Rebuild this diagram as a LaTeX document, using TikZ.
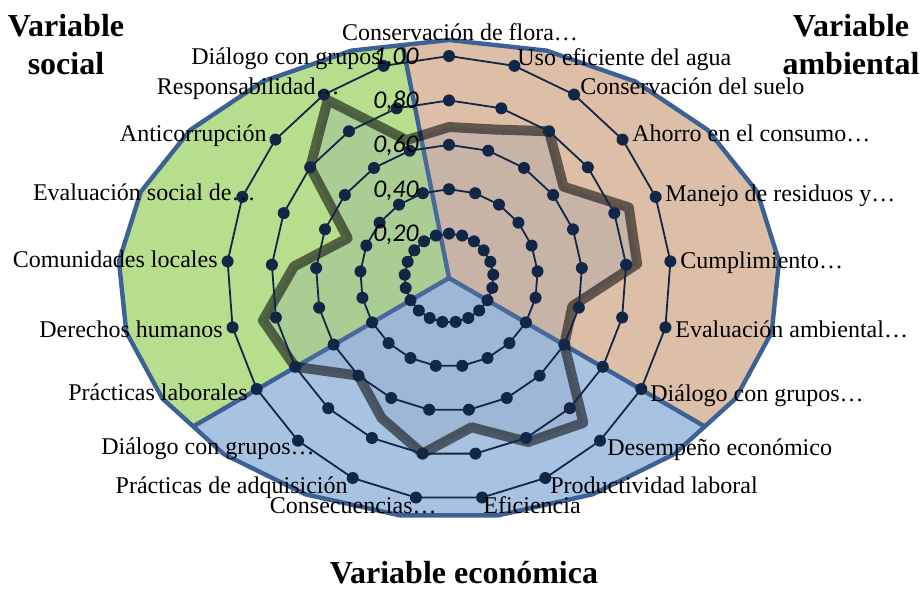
\documentclass[tikz,border=0pt]{standalone}
\usepackage{fontspec}
\setmainfont{Liberation Serif}
\newfontfamily\tickfont{Carlito}
\usetikzlibrary{calc}

\definecolor{socialgreen}{RGB}{183,222,141}
\definecolor{envtan}{RGB}{220,191,166}
\definecolor{ecoblue}{RGB}{168,194,226}
\definecolor{edgeblue}{RGB}{60,97,148}
\definecolor{gridnavy}{RGB}{18,38,72}
\definecolor{datafill}{RGB}{120,140,175}

\begin{document}
\begin{tikzpicture}[x=0.5pt, y=-0.5pt,
    ring/.style={draw=gridnavy, line width=0.9pt, line join=round},
    edge/.style={draw=edgeblue, line width=2.2pt, line join=round},
    series/.style={draw=black, draw opacity=0.55, line width=5pt, line join=round,
      fill=datafill, fill opacity=0.2},
    catlabel/.style={font=\fontsize{12}{14}\selectfont, inner sep=0pt},
    ticklabel/.style={font=\tickfont\itshape\fontsize{12.8}{14}\selectfont,
      inner sep=0pt, anchor=base east},
    vartitle/.style={font=\bfseries\fontsize{16}{19}\selectfont, align=center, inner sep=0pt},
  ]
  \useasboundingbox (0,0) rectangle (922,590);

  % centre and sector borders
  \coordinate (C) at (449,278);
  \coordinate (b-top) at (402,42);
  \coordinate (b-right) at (704,426);
  \coordinate (b-left) at (194,426);

  % outer 21-gon
  \foreach \k in {0,...,20}
    \coordinate (o\k) at ({449+331*sin(\k*360/21)},{279-239*cos(\k*360/21)});

  \begin{scope}
    \clip (o0) \foreach \k in {1,...,20} {-- (o\k)} -- cycle;
    \fill[envtan] (C) -- ($(C)!3!(b-top)$) -- (1000,-300) -- ($(C)!3!(b-right)$) -- cycle;
    \fill[socialgreen] (C) -- ($(C)!3!(b-top)$) -- (-300,-300) -- ($(C)!3!(b-left)$) -- cycle;
    \fill[ecoblue] (C) -- ($(C)!3!(b-left)$) -- ($(C)!3!(b-right)$) -- cycle;
    \draw[edge] ($(C)!1.3!(b-top)$) -- (C) -- ($(C)!1.3!(b-right)$);
    \draw[edge] (C) -- ($(C)!1.3!(b-left)$);
  \end{scope}
  \draw[edge] (o0) \foreach \k in {1,...,20} {-- (o\k)} -- cycle;

  % data series
  \foreach \v [count=\k from 0] in {0.68,0.70,0.80,0.66,0.87,0.85,0.57,0.60,0.89,0.82,0.68,
                                    0.80,0.70,0.60,0.80,0.86,0.70,0.49,0.80,0.97,0.65}
    \coordinate (d\k) at ({449+222*\v*sin(\k*360/21)},{278-222*\v*cos(\k*360/21)});
  \draw[series] (d0) \foreach \k in {1,...,20} {-- (d\k)} -- cycle;

  % grid rings with markers
  \foreach \r in {1,...,5} {
    \foreach \k in {0,...,20}
      \coordinate (g\r-\k) at ({449+44.4*\r*sin(\k*360/21)},{278-44.4*\r*cos(\k*360/21)});
    \draw[ring] (g\r-0) \foreach \k in {1,...,20} {-- (g\r-\k)} -- cycle;
    \foreach \k in {0,...,20}
      \fill[gridnavy] (g\r-\k) circle (3pt);
  }

  % category labels
  \node[catlabel, anchor=base] (lab-flora) at (460,40) {Conservación de flora…};
  \node[catlabel, anchor=base west] (lab-agua) at (517,65) {Uso eficiente del agua};
  \node[catlabel, anchor=base west] (lab-suelo) at (580,94) {Conservación del suelo};
  \node[catlabel, anchor=base west] (lab-consumo) at (632,141) {Ahorro en el consumo…};
  \node[catlabel, anchor=base west] (lab-residuos) at (665,201) {Manejo de residuos y…};
  \node[catlabel, anchor=base west] (lab-cumpl) at (680,268) {Cumplimiento…};
  \node[catlabel, anchor=base west] (lab-evalamb) at (675,337) {Evaluación ambiental…};
  \node[catlabel, anchor=base west] (lab-dialogoA) at (650,401) {Diálogo con grupos…};
  \node[catlabel, anchor=base west] (lab-desemp) at (607,455) {Desempeño económico};
  \node[catlabel, anchor=base west] (lab-product) at (550,493) {Productividad laboral};
  \node[catlabel, anchor=base west] (lab-efic) at (483,513) {Eficiencia};
  \node[catlabel, anchor=base east] (lab-consec) at (437,513) {Consecuencias…};
  \node[catlabel, anchor=base east] (lab-adquis) at (348,493) {Prácticas de adquisición};
  \node[catlabel, anchor=base east] (lab-dialogoE) at (315,454) {Diálogo con grupos…};
  \node[catlabel, anchor=base east] (lab-laboral) at (248,400) {Prácticas laborales};
  \node[catlabel, anchor=base east] (lab-ddhh) at (223,337) {Derechos humanos};
  \node[catlabel, anchor=base east] (lab-comun) at (218,267) {Comunidades locales};
  \node[catlabel, anchor=base east] (lab-evalsoc) at (256,200) {Evaluación social de…};
  \node[catlabel, anchor=base east] (lab-anticorr) at (267,141) {Anticorrupción};
  \node[catlabel, anchor=base east] (lab-resp) at (340,94) {Responsabilidad…};
  \node[catlabel, anchor=base east] (lab-dialogoS) at (381,64) {Diálogo con grupos};

  % value axis labels
  \foreach \r/\t in {1/0{,}20,2/0{,}40,3/0{,}60,4/0{,}80,5/1{,}00}
    \node[ticklabel] (tick\r) at (419,{278-44.4*\r+8}) {\t};

  % the three variables
  \node[vartitle, anchor=north] (var-social) at (66,14) {Variable\\social};
  \node[vartitle, anchor=north] (var-amb) at (851,14) {Variable\\ambiental};
  \node[vartitle, anchor=base] (var-eco) at (464,583) {Variable económica};
\end{tikzpicture}
\end{document}
